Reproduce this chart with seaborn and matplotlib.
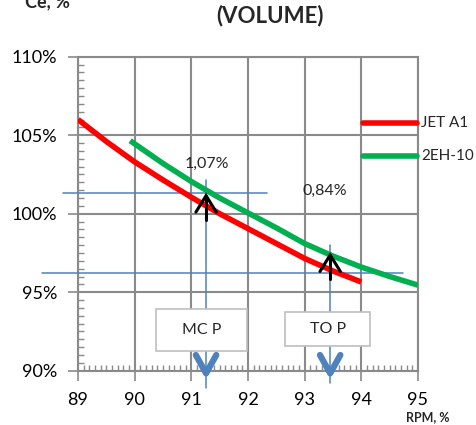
import matplotlib
matplotlib.use("Agg")
import matplotlib.pyplot as plt
from matplotlib.ticker import MultipleLocator, FuncFormatter
from matplotlib.patches import Rectangle
import pandas as pd
import seaborn as sns

# Specific fuel consumption (by volume) vs. engine speed
rpm_jet = [89.0, 89.5, 90.0, 90.5, 91.0, 91.5, 92.0, 92.5, 93.0, 93.5, 94.0]
ce_jet = [106.0, 104.6, 103.3, 102.15, 101.05, 100.0, 99.05, 98.1, 97.15, 96.35, 95.65]
rpm_eh = [89.92, 90.5, 91.0, 91.5, 92.0, 92.5, 93.0, 93.5, 94.0, 94.5, 95.0]
ce_eh = [104.65, 103.2, 102.05, 101.0, 100.05, 99.1, 98.1, 97.3, 96.6, 96.0, 95.45]
fuels = ["JET A1", "2EH-10"]
fuel_colors = ["#ff0000", "#00b050"]

x_ticks = [89, 90, 91, 92, 93, 94, 95]
y_ticks = [90, 95, 100, 105, 110]

# Engine operating modes and the consumption difference at each
mode_names = ["MC P", "TO P"]
mode_rpm = [91.26, 93.45]
mode_gain = ["1,07%", "0,84%"]
mode_level = [101.3, 96.24]
mode_tip = [101.15, 97.37]

sns.set_theme(style="white")
plt.rcParams["font.family"] = ["Lato", "DejaVu Sans"]

GRID = "#8a8a8a"
BLUE = "#4f81bd"

fig = plt.figure(figsize=(4.77, 4.25), dpi=100)
ax = fig.add_axes([78 / 477, 1 - 370.7 / 425, 340 / 477, 314 / 425])

df = pd.DataFrame({
    "rpm": rpm_jet + rpm_eh,
    "ce": ce_jet + ce_eh,
    "fuel": [fuels[0]] * len(rpm_jet) + [fuels[1]] * len(rpm_eh),
})

# reference lines for the two operating modes
ax.plot([88.74, 92.33], [mode_level[0]] * 2, color=BLUE, lw=1.1, zorder=3, clip_on=False)
ax.plot([88.36, 94.73], [mode_level[1]] * 2, color=BLUE, lw=1.1, zorder=3, clip_on=False)
ax.plot([mode_rpm[0]] * 2, [102.15, 88.9], color=BLUE, lw=1.1, zorder=3, clip_on=False)
ax.plot([mode_rpm[1]] * 2, [98.0, 89.2], color=BLUE, lw=1.1, zorder=3, clip_on=False)

sns.lineplot(data=df, x="rpm", y="ce", hue="fuel", hue_order=fuels,
             palette=dict(zip(fuels, fuel_colors)), estimator=None, sort=True,
             lw=4, legend=False, ax=ax, zorder=4, solid_capstyle="butt")

# legend drawn beside the plot edge
for ypos, name, col in zip([105.8, 103.69], fuels, fuel_colors):
    ax.plot([94.03, 94.98], [ypos, ypos], color=col, lw=4, zorder=5,
            solid_capstyle="round", clip_on=False)
    ax.text(95.05, ypos, name, fontsize=11, va="center", ha="left", clip_on=False)

for i in range(2):
    x = mode_rpm[i]
    tip = mode_tip[i]
    # black upward arrow on the curve
    ax.plot([x - 0.18, x, x + 0.18], [tip - 1.05, tip, tip - 1.05], color="black",
            lw=2.2, zorder=6, solid_joinstyle="miter")
    ax.plot([x, x], [tip, tip - 1.55], color="black", lw=2.2, zorder=6)
    # blue downward arrow head at the axis
    ax.plot([x - 0.18, x, x + 0.18], [91.0, 89.83, 91.0], color=BLUE, lw=4.5,
            zorder=6, clip_on=False, solid_capstyle="round")

ax.text(91.28, 103.17, mode_gain[0], fontsize=11.5, ha="center", va="center", zorder=7)
ax.text(93.36, 101.45, mode_gain[1], fontsize=11.5, ha="center", va="center", zorder=7)

boxes = [(90.38, 91.27, 91.99 - 90.38, 93.91 - 91.27),
         (92.65, 91.59, 94.16 - 92.65, 93.76 - 91.59)]
for (bx, by, bw, bh), name in zip(boxes, mode_names):
    ax.add_patch(Rectangle((bx, by), bw, bh, facecolor="white", edgecolor="#bfbfbf",
                           lw=1.2, zorder=5))
    ax.text(bx + bw / 2, by + bh / 2, name, fontsize=11.5, ha="center", va="center",
            zorder=6)

ax.set_xlim(89, 95)
ax.set_ylim(90, 110)
ax.set_xticks(x_ticks)
ax.set_yticks(y_ticks)
ax.yaxis.set_major_formatter(FuncFormatter(lambda v, p: f"{v:.0f}%"))
ax.xaxis.set_minor_locator(MultipleLocator(0.1))
ax.yaxis.set_minor_locator(MultipleLocator(0.5))
ax.tick_params(which="major", direction="out", length=7, width=1.2, color=GRID,
               labelsize=13, pad=8, labelcolor="black")
ax.tick_params(which="minor", direction="in", length=4, width=1.0, color=GRID)
ax.tick_params(axis="x", which="both", top=False, bottom=True)
ax.tick_params(axis="y", which="both", right=False, left=True)
ax.grid(True, which="major", color=GRID, lw=1.5)
ax.set_axisbelow(True)
for s in ax.spines.values():
    s.set_color(GRID)
    s.set_linewidth(1.5)
ax.set_xlabel("")
ax.set_ylabel("")

fig.text(270 / 477, 1 - 16 / 425, "(VOLUME)", fontsize=16, fontweight="bold",
         ha="center", va="center")
fig.text(25 / 477, 1 - 7 / 425, "Ce, %", fontsize=13, fontweight="bold",
         ha="left", va="baseline")
fig.text(428 / 477, 1 - 417.5 / 425, "RPM, %", fontsize=9, fontweight="bold",
         ha="center", va="center")

fig.savefig("out.png", dpi=100)
